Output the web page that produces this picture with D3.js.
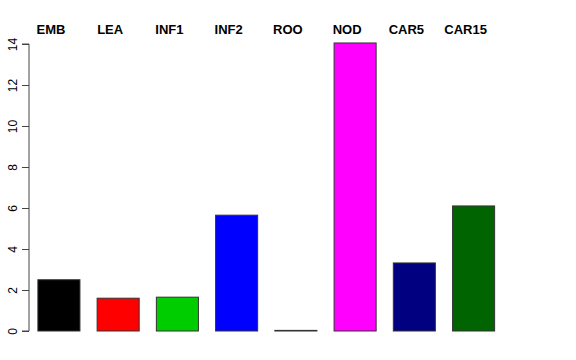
<!DOCTYPE html>
<html>
<head>
<meta charset="utf-8">
<script src="https://cdn.jsdelivr.net/npm/d3@7"></script>
<style>
  body { margin: 0; background: #fff; }
  svg { display: block; font-family: "Liberation Sans", Arial, sans-serif; }
</style>
</head>
<body>
<script>
// tissue values
var tissues = ["EMB", "LEA", "INF1", "INF2", "ROO", "NOD", "CAR5", "CAR15"];
var values = [2.5, 1.6, 1.65, 5.65, 0.03, 14.05, 3.32, 6.1];
var colors = ["#000000", "#ff0000", "#00cd00", "#0000ff", "#000000", "#ff00ff", "#000080", "#006400"];
var yTicks = [0, 2, 4, 6, 8, 10, 12, 14];

var width = 576, height = 360;
var svg = d3.select("body").append("svg")
  .attr("width", width)
  .attr("height", height);

var x = d3.scaleBand()
  .domain(tissues)
  .range([29, 503.5])
  .paddingInner(0.29)
  .paddingOuter(0.15);

var y = d3.scaleLinear()
  .domain([0, 14])
  .range([331, 44]);

// bars
svg.selectAll("rect.bar")
  .data(values)
  .enter()
  .append("rect")
  .attr("class", "bar")
  .attr("x", function(d, i) { return x(tissues[i]); })
  .attr("width", x.bandwidth())
  .attr("y", function(d) { return y(d); })
  .attr("height", function(d) { return y(0) - y(d); })
  .attr("fill", function(d, i) { return colors[i]; })
  .attr("stroke", "#333")
  .attr("stroke-width", 1);

// y axis, R style
var yAxis = d3.axisLeft(y)
  .tickValues(yTicks)
  .tickSize(7)
  .tickPadding(6);

var gy = svg.append("g")
  .attr("transform", "translate(29,0)")
  .call(yAxis);
gy.select(".domain").attr("stroke", "#444").attr("d", "M-7," + y(14) + "H0V" + y(0) + "H-7").attr("fill", "none");
gy.selectAll(".tick line").attr("stroke", "#444");
gy.selectAll(".tick text")
  .attr("font-size", 12)
  .attr("fill", "#000")
  .attr("x", null)
  .attr("dy", null)
  .attr("text-anchor", "middle")
  .attr("transform", "translate(-12,0) rotate(-90)")
  .attr("y", 0);

// category names across the top
svg.selectAll("text.lab")
  .data(tissues)
  .enter()
  .append("text")
  .attr("class", "lab")
  .attr("x", function(d) { return x(d) + x.bandwidth() / 2 - 8; })
  .attr("y", 34)
  .attr("text-anchor", "middle")
  .attr("font-size", 13)
  .attr("font-weight", "bold")
  .text(function(d) { return d; });
</script>
</body>
</html>
